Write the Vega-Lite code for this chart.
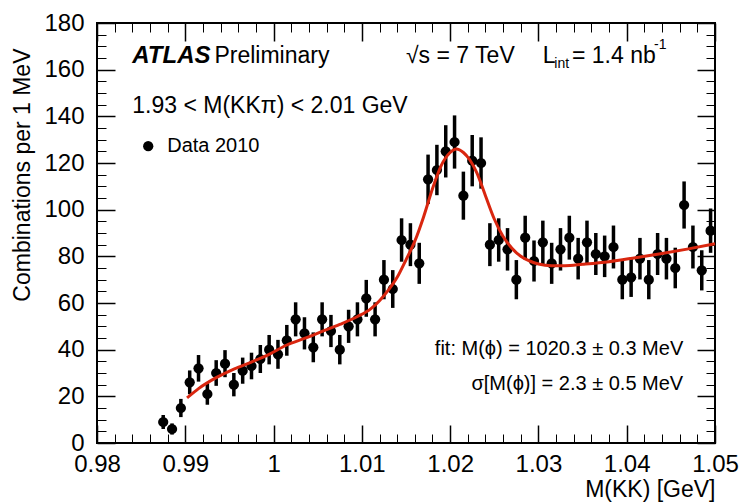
{
  "$schema": "https://vega.github.io/schema/vega-lite/v6.json",
  "width": 618,
  "height": 420,
  "autosize": "none",
  "padding": {"left": 97, "top": 23, "right": 30, "bottom": 59},
  "background": "white",
  "config": {
    "view": {"stroke": "black", "strokeWidth": 2},
    "font": "Liberation Sans",
    "axis": {"grid": false, "domain": false, "tickColor": "black", "labelColor": "black", "titleColor": "black", "labelFont": "Liberation Sans", "titleFont": "Liberation Sans", "labelFlush": false, "labelOverlap": false}
  },
  "datasets": {
    "pts": [
      {"x": 0.9875, "v": 9, "err": 3.0}, {"x": 0.9885, "v": 6, "err": 2.4}, {"x": 0.9895, "v": 15, "err": 3.9}, {"x": 0.9905, "v": 26, "err": 5.1},
      {"x": 0.9915, "v": 32, "err": 5.7}, {"x": 0.9925, "v": 21, "err": 4.6}, {"x": 0.9935, "v": 30, "err": 5.5}, {"x": 0.9945, "v": 34, "err": 5.8},
      {"x": 0.9955, "v": 25, "err": 5.0}, {"x": 0.9965, "v": 31, "err": 5.6}, {"x": 0.9975, "v": 33, "err": 5.7}, {"x": 0.9985, "v": 36, "err": 6.0},
      {"x": 0.9995, "v": 40, "err": 6.3}, {"x": 1.0005, "v": 38, "err": 6.2}, {"x": 1.0015, "v": 44, "err": 6.6}, {"x": 1.0025, "v": 53, "err": 7.3},
      {"x": 1.0035, "v": 47, "err": 6.9}, {"x": 1.0045, "v": 41, "err": 6.4}, {"x": 1.0055, "v": 53, "err": 7.3}, {"x": 1.0065, "v": 48, "err": 6.9},
      {"x": 1.0075, "v": 40, "err": 6.3}, {"x": 1.0085, "v": 50, "err": 7.1}, {"x": 1.0095, "v": 53, "err": 7.3}, {"x": 1.0105, "v": 62, "err": 7.9},
      {"x": 1.0115, "v": 53, "err": 7.3}, {"x": 1.0125, "v": 70, "err": 8.4}, {"x": 1.0135, "v": 66, "err": 8.1}, {"x": 1.0145, "v": 87, "err": 9.3},
      {"x": 1.0155, "v": 85, "err": 9.2}, {"x": 1.0165, "v": 77, "err": 8.8}, {"x": 1.0175, "v": 113, "err": 10.6}, {"x": 1.0185, "v": 117, "err": 10.8},
      {"x": 1.0195, "v": 125, "err": 11.2}, {"x": 1.0205, "v": 129, "err": 11.4}, {"x": 1.0215, "v": 106, "err": 10.3}, {"x": 1.0225, "v": 121, "err": 11.0},
      {"x": 1.0235, "v": 120, "err": 11.0}, {"x": 1.0245, "v": 85, "err": 9.2}, {"x": 1.0255, "v": 87, "err": 9.3}, {"x": 1.0265, "v": 83, "err": 9.1},
      {"x": 1.0275, "v": 70, "err": 8.4}, {"x": 1.0285, "v": 88, "err": 9.4}, {"x": 1.0295, "v": 78, "err": 8.8}, {"x": 1.0305, "v": 86, "err": 9.3},
      {"x": 1.0315, "v": 77, "err": 8.8}, {"x": 1.0325, "v": 83, "err": 9.1}, {"x": 1.0335, "v": 88, "err": 9.4}, {"x": 1.0345, "v": 79, "err": 8.9},
      {"x": 1.0355, "v": 86, "err": 9.3}, {"x": 1.0365, "v": 81, "err": 9.0}, {"x": 1.0375, "v": 80, "err": 8.9}, {"x": 1.0385, "v": 84, "err": 9.2},
      {"x": 1.0395, "v": 70, "err": 8.4}, {"x": 1.0405, "v": 71, "err": 8.4}, {"x": 1.0415, "v": 79, "err": 8.9}, {"x": 1.0425, "v": 70, "err": 8.4},
      {"x": 1.0435, "v": 81, "err": 9.0}, {"x": 1.0445, "v": 79, "err": 8.9}, {"x": 1.0455, "v": 75, "err": 8.7}, {"x": 1.0465, "v": 102, "err": 10.1},
      {"x": 1.0475, "v": 84, "err": 9.2}, {"x": 1.0485, "v": 74, "err": 8.6}, {"x": 1.0495, "v": 91, "err": 9.5}
    ],
    "fit": [
      {"x": 0.9902, "f": 19.3}, {"x": 0.9915, "f": 23.3}, {"x": 0.9935, "f": 28}, {"x": 0.9955, "f": 31.7}, {"x": 0.9975, "f": 34.7},
      {"x": 0.9995, "f": 38}, {"x": 1.0015, "f": 42}, {"x": 1.0035, "f": 44.8}, {"x": 1.0055, "f": 47.8}, {"x": 1.0075, "f": 50.8},
      {"x": 1.0095, "f": 54.2}, {"x": 1.011, "f": 57.5}, {"x": 1.012, "f": 61}, {"x": 1.013, "f": 65.5}, {"x": 1.014, "f": 71},
      {"x": 1.015, "f": 78.5}, {"x": 1.016, "f": 86.5}, {"x": 1.017, "f": 97}, {"x": 1.018, "f": 109}, {"x": 1.019, "f": 119},
      {"x": 1.02, "f": 124.5}, {"x": 1.0207, "f": 126}, {"x": 1.0215, "f": 124.5}, {"x": 1.0222, "f": 121.5}, {"x": 1.023, "f": 116},
      {"x": 1.024, "f": 106}, {"x": 1.025, "f": 96}, {"x": 1.026, "f": 88.5}, {"x": 1.027, "f": 83.5}, {"x": 1.028, "f": 80},
      {"x": 1.029, "f": 78}, {"x": 1.03, "f": 76.7}, {"x": 1.0315, "f": 76}, {"x": 1.033, "f": 76}, {"x": 1.035, "f": 76.6},
      {"x": 1.038, "f": 77.7}, {"x": 1.041, "f": 79.4}, {"x": 1.044, "f": 81.2}, {"x": 1.047, "f": 83.2}, {"x": 1.05, "f": 85.4}
    ]
  },
  "resolve": {"axis": {"x": "independent", "y": "independent"}},
  "layer": [
    {
      "data": {"name": "pts"},
      "mark": {"type": "errorbar", "thickness": 3.5, "color": "black"},
      "encoding": {
        "x": {"field": "x", "type": "quantitative", "scale": {"domain": [0.98, 1.05], "nice": false, "zero": false}, "axis": null},
        "y": {"field": "v", "type": "quantitative", "scale": {"domain": [0, 180], "nice": false}, "axis": null},
        "yError": {"field": "err"}
      }
    },
    {
      "data": {"name": "pts"},
      "mark": {"type": "point", "filled": true, "shape": "circle", "size": 105, "color": "black", "opacity": 1},
      "encoding": {
        "x": {"field": "x", "type": "quantitative", "axis": {"orient": "bottom", "values": [0.98, 0.99, 1, 1.01, 1.02, 1.03, 1.04, 1.05], "format": "~g", "ticks": false, "tickSize": 0, "labelPadding": 9, "labelFontSize": 24, "title": "M(KK) [GeV]", "titleFontSize": 23, "titleFontWeight": "normal", "titleX": 618, "titleY": 46.5, "titleAlign": "right", "titleBaseline": "middle", "titleAnchor": "end"}},
        "y": {"field": "v", "type": "quantitative", "axis": {"orient": "left", "values": [0, 20, 40, 60, 80, 100, 120, 140, 160, 180], "format": "d", "ticks": false, "tickSize": 0, "labelPadding": 13, "labelFontSize": 24, "labelBaseline": "middle", "title": "Combinations per 1 MeV", "titleFontSize": 23, "titleFontWeight": "normal", "titleAngle": -90, "titleX": -75, "titleY": 25, "titleAlign": "right", "titleBaseline": "middle", "titleAnchor": "end"}}
      }
    },
    {
      "data": {"name": "fit"},
      "mark": {"type": "line", "color": "#d9260f", "strokeWidth": 3, "interpolate": "monotone"},
      "encoding": {
        "x": {"field": "x", "type": "quantitative", "axis": {"orient": "bottom", "values": [0.98, 0.99, 1, 1.01, 1.02, 1.03, 1.04, 1.05], "labels": false, "tickSize": -18, "tickWidth": 1.5, "title": null}},
        "y": {"field": "f", "type": "quantitative", "axis": {"orient": "left", "values": [0, 20, 40, 60, 80, 100, 120, 140, 160, 180], "labels": false, "tickSize": -18, "tickWidth": 1.5, "title": null}}
      }
    },
    {
      "data": {"values": [
        {"x": 0.9933, "y": 166, "t": "Preliminary"},
        {"x": 1.015, "y": 166, "t": "√s = 7 TeV"},
        {"x": 1.0305, "y": 166, "t": "L"},
        {"x": 1.0338, "y": 166, "t": "= 1.4 nb"},
        {"x": 0.984, "y": 144.3, "t": "1.93 < M(KKπ) < 2.01 GeV"}
      ]},
      "mark": {"type": "text", "align": "left", "baseline": "middle", "fontSize": 23, "color": "black", "font": "Liberation Sans"},
      "encoding": {
        "x": {"field": "x", "type": "quantitative", "axis": {"orient": "bottom", "values": [0.98, 0.982, 0.984, 0.986, 0.988, 0.99, 0.992, 0.994, 0.996, 0.998, 1, 1.002, 1.004, 1.006, 1.008, 1.01, 1.012, 1.014, 1.016, 1.018, 1.02, 1.022, 1.024, 1.026, 1.028, 1.03, 1.032, 1.034, 1.036, 1.038, 1.04, 1.042, 1.044, 1.046, 1.048, 1.05], "labels": false, "tickSize": -9, "tickWidth": 1, "title": null}},
        "y": {"field": "y", "type": "quantitative", "axis": {"orient": "left", "values": [0, 5, 10, 15, 20, 25, 30, 35, 40, 45, 50, 55, 60, 65, 70, 75, 80, 85, 90, 95, 100, 105, 110, 115, 120, 125, 130, 135, 140, 145, 150, 155, 160, 165, 170, 175, 180], "labels": false, "tickSize": -9, "tickWidth": 1, "title": null}},
        "text": {"field": "t"}
      }
    },
    {
      "data": {"values": [{"x": 0.984, "y": 166, "t": "ATLAS"}]},
      "mark": {"type": "text", "align": "left", "baseline": "middle", "fontSize": 24, "fontWeight": "bold", "fontStyle": "italic", "color": "black", "font": "Liberation Sans"},
      "encoding": {
        "x": {"field": "x", "type": "quantitative", "axis": null},
        "y": {"field": "y", "type": "quantitative", "axis": null},
        "text": {"field": "t"}
      }
    },
    {
      "data": {"values": [
        {"x": 1.0318, "y": 162.5, "t": "int"},
        {"x": 1.0431, "y": 170.5, "t": "-1"}
      ]},
      "mark": {"type": "text", "align": "left", "baseline": "middle", "fontSize": 14, "color": "black", "font": "Liberation Sans"},
      "encoding": {
        "x": {"field": "x", "type": "quantitative", "axis": {"orient": "top", "values": [0.98, 0.99, 1, 1.01, 1.02, 1.03, 1.04, 1.05], "labels": false, "tickSize": -18, "tickWidth": 1.5, "title": null}},
        "y": {"field": "y", "type": "quantitative", "axis": {"orient": "right", "values": [0, 20, 40, 60, 80, 100, 120, 140, 160, 180], "labels": false, "tickSize": -18, "tickWidth": 1.5, "title": null}},
        "text": {"field": "t"}
      }
    },
    {
      "data": {"values": [{"x": 0.98795, "y": 127.2, "t": "Data 2010"}]},
      "mark": {"type": "text", "align": "left", "baseline": "middle", "fontSize": 20, "color": "black", "font": "Liberation Sans"},
      "encoding": {
        "x": {"field": "x", "type": "quantitative", "axis": {"orient": "top", "values": [0.98, 0.982, 0.984, 0.986, 0.988, 0.99, 0.992, 0.994, 0.996, 0.998, 1, 1.002, 1.004, 1.006, 1.008, 1.01, 1.012, 1.014, 1.016, 1.018, 1.02, 1.022, 1.024, 1.026, 1.028, 1.03, 1.032, 1.034, 1.036, 1.038, 1.04, 1.042, 1.044, 1.046, 1.048, 1.05], "labels": false, "tickSize": -9, "tickWidth": 1, "title": null}},
        "y": {"field": "y", "type": "quantitative", "axis": {"orient": "right", "values": [0, 5, 10, 15, 20, 25, 30, 35, 40, 45, 50, 55, 60, 65, 70, 75, 80, 85, 90, 95, 100, 105, 110, 115, 120, 125, 130, 135, 140, 145, 150, 155, 160, 165, 170, 175, 180], "labels": false, "tickSize": -9, "tickWidth": 1, "title": null}},
        "text": {"field": "t"}
      }
    },
    {
      "data": {"values": [{"x": 0.9858, "y": 127.2}]},
      "mark": {"type": "point", "filled": true, "shape": "circle", "size": 105, "color": "black", "opacity": 1},
      "encoding": {
        "x": {"field": "x", "type": "quantitative", "axis": null},
        "y": {"field": "y", "type": "quantitative", "axis": null}
      }
    },
    {
      "data": {"values": [
        {"x": 1.0464, "y": 40.2, "t": "fit: M(ϕ) = 1020.3 ± 0.3 MeV"},
        {"x": 1.0464, "y": 25.2, "t": "σ[M(ϕ)] = 2.3 ± 0.5 MeV"}
      ]},
      "mark": {"type": "text", "align": "right", "baseline": "middle", "fontSize": 20, "color": "black", "font": "Liberation Sans"},
      "encoding": {
        "x": {"field": "x", "type": "quantitative", "axis": null},
        "y": {"field": "y", "type": "quantitative", "axis": null},
        "text": {"field": "t"}
      }
    }
  ]
}
